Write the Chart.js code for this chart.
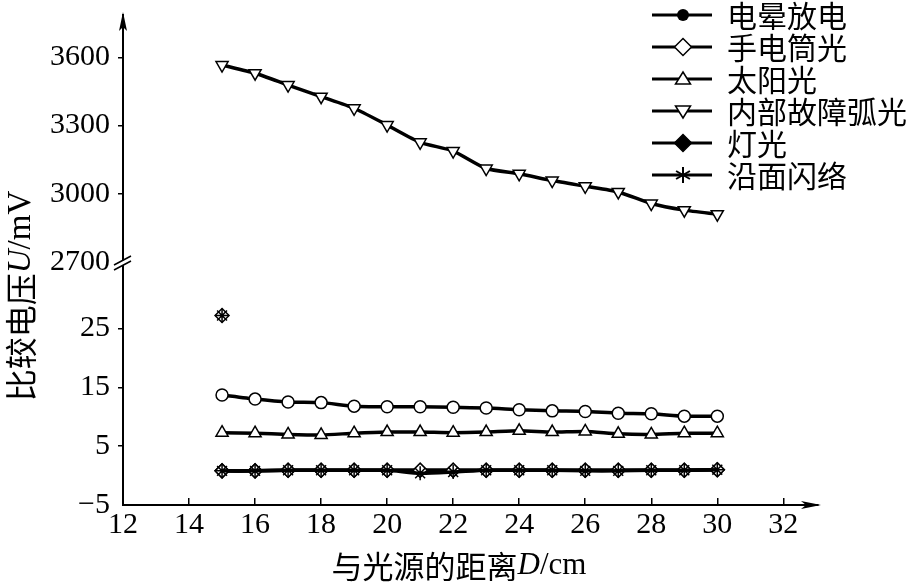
<!DOCTYPE html>
<html>
<head>
<meta charset="utf-8">
<script src="https://cdn.jsdelivr.net/npm/chart.js@4/dist/chart.umd.min.js"></script>
<style>
	html, body { margin: 0; padding: 0; background: #fff; }
</style>
</head>
<body>
<canvas id="chart" width="908" height="583"></canvas>
<script>
// datos
var distance = [15, 16, 17, 18, 19, 20, 21, 22, 23, 24, 25, 26, 27, 28, 29, 30];
var xTicks = [12, 14, 16, 18, 20, 22, 24, 26, 28, 30, 32];
var lowTicks = [-5, 5, 15, 25];
var highTicks = [2700, 3000, 3300, 3600];

var corona = [13.7, 13.0, 12.5, 12.4, 11.8, 11.7, 11.7, 11.6, 11.5, 11.2, 11.0, 10.9, 10.6, 10.5, 10.1, 10.1];
var flashlight = [0.8, 0.8, 0.9, 0.9, 0.9, 0.9, 0.9, 0.9, 0.9, 0.9, 0.9, 0.9, 0.9, 0.9, 0.9, 1.0];
var sunlight = [7.3, 7.2, 7.0, 6.9, 7.2, 7.4, 7.4, 7.3, 7.4, 7.6, 7.4, 7.5, 7.1, 7.0, 7.2, 7.2];
var arcLight = [3566, 3530, 3478, 3427, 3376, 3302, 3226, 3188, 3111, 3088, 3058, 3033, 3008, 2957, 2928, 2910];
var lamp = [0.8, 0.8, 0.9, 0.9, 0.9, 0.9, 0.9, 0.9, 0.9, 0.9, 0.9, 0.9, 0.9, 0.9, 0.9, 1.0];
var flashover = [0.8, 0.8, 0.9, 0.9, 0.9, 0.9, 0.4, 0.6, 0.9, 0.9, 0.9, 0.8, 0.8, 0.9, 0.9, 1.0];
var outlierX = [15, 15];
var outlierY = [27.2, 27.2];

var serif = "'Liberation Serif', 'Times New Roman', serif";
var cjk = "'Noto Sans CJK SC', sans-serif";

var puntos = function (xs, ys) {
	return xs.map(function (x, i) { return {x: x, y: ys[i]}; });
};

var serie = function (label, ys, axis, style, legendMark, order) {
	return {
		label: label,
		data: puntos(distance, ys),
		yAxisID: axis,
		borderColor: '#000',
		borderWidth: 3.5,
		tension: 0.2,
		pointStyle: style,
		pointRadius: style == 'circle' ? 6 : 7,
		pointRotation: 0,
		pointBackgroundColor: '#fff',
		pointBorderColor: '#000',
		pointBorderWidth: 1.5,
		legendMark: legendMark,
		order: order
	};
};

var arcSeries = serie('内部故障弧光', arcLight, 'yHigh', 'triangle', 'triDown', 3);
arcSeries.pointRotation = 180;

var datasets = [
	serie('电晕放电', corona, 'yLow', 'circle', 'dot', 3),
	serie('手电筒光', flashlight, 'yLow', 'rectRot', 'diamond', 2),
	serie('太阳光', sunlight, 'yLow', 'triangle', 'triUp', 3),
	arcSeries,
	serie('灯光', lamp, 'yLow', 'rectRot', 'solidDiamond', 2),
	serie('沿面闪络', flashover, 'yLow', 'star', 'asterisk', 0),
	{
		label: '',
		data: puntos(outlierX, outlierY),
		yAxisID: 'yLow',
		showLine: false,
		pointStyle: ['rectRot', 'star'],
		pointRadius: 7,
		pointBackgroundColor: '#fff',
		pointBorderColor: '#000',
		pointBorderWidth: 1.5,
		order: 0
	}
];

// marca de la leyenda: linea + simbolo
var drawMark = function (ctx, kind, x, y) {
	ctx.save();
	ctx.lineWidth = 1.5;
	ctx.strokeStyle = '#000';
	ctx.fillStyle = '#fff';
	ctx.beginPath();
	if (kind == 'dot') {
		ctx.arc(x, y, 6, 0, Math.PI * 2);
		ctx.fillStyle = '#000';
		ctx.fill();
	} else if (kind == 'diamond' || kind == 'solidDiamond') {
		ctx.moveTo(x, y - 8.5); ctx.lineTo(x + 8.5, y); ctx.lineTo(x, y + 8.5); ctx.lineTo(x - 8.5, y);
		ctx.closePath();
		if (kind == 'solidDiamond') ctx.fillStyle = '#000';
		ctx.fill(); ctx.stroke();
	} else if (kind == 'triUp') {
		ctx.moveTo(x, y - 7); ctx.lineTo(x + 7.5, y + 5); ctx.lineTo(x - 7.5, y + 5);
		ctx.closePath(); ctx.fill(); ctx.stroke();
	} else if (kind == 'triDown') {
		ctx.moveTo(x, y + 7); ctx.lineTo(x + 7.5, y - 5); ctx.lineTo(x - 7.5, y - 5);
		ctx.closePath(); ctx.fill(); ctx.stroke();
	} else if (kind == 'asterisk') {
		ctx.lineWidth = 2;
		for (var a = 0; a < 3; a++) {
			var ang = Math.PI / 2 + a * Math.PI / 3;
			ctx.moveTo(x - Math.cos(ang) * 8, y - Math.sin(ang) * 8);
			ctx.lineTo(x + Math.cos(ang) * 8, y + Math.sin(ang) * 8);
		}
		ctx.stroke();
	}
	ctx.restore();
};

// texto con partes en distinta fuente
var mixedText = function (ctx, parts, x, y) {
	var total = 0;
	parts.forEach(function (p) { ctx.font = p[1]; total += ctx.measureText(p[0]).width; });
	var cx = x - total / 2;
	parts.forEach(function (p) {
		ctx.font = p[1];
		ctx.fillText(p[0], cx, y);
		cx += ctx.measureText(p[0]).width;
	});
};

var decoration = {
	id: 'decoration',
	afterDraw: function (chart) {
		var ctx = chart.ctx;
		var area = chart.chartArea;
		var brk = chart.scales.yHigh.getPixelForValue(highTicks[0]);
		ctx.save();
		ctx.fillStyle = '#000';
		ctx.strokeStyle = '#000';

		// flecha eje y
		var ax = area.left;
		ctx.beginPath();
		ctx.moveTo(ax, area.top - 3);
		ctx.lineTo(ax - 4, area.top + 16);
		ctx.lineTo(ax, area.top + 12);
		ctx.lineTo(ax + 4, area.top + 16);
		ctx.closePath();
		ctx.fill();

		// flecha eje x
		var ay = area.bottom;
		ctx.beginPath();
		ctx.moveTo(area.right + 3, ay);
		ctx.lineTo(area.right - 17, ay - 4);
		ctx.lineTo(area.right - 12, ay);
		ctx.lineTo(area.right - 17, ay + 4);
		ctx.closePath();
		ctx.fill();

		// corte del eje
		ctx.fillStyle = '#fff';
		ctx.beginPath();
		ctx.moveTo(ax - 8, brk + 2); ctx.lineTo(ax + 8, brk - 6);
		ctx.lineTo(ax + 8, brk - 1); ctx.lineTo(ax - 8, brk + 7);
		ctx.closePath();
		ctx.fill();
		ctx.lineWidth = 1.5;
		ctx.beginPath();
		ctx.moveTo(ax - 9, brk + 3); ctx.lineTo(ax + 8, brk - 6);
		ctx.moveTo(ax - 9, brk + 8); ctx.lineTo(ax + 8, brk - 1);
		ctx.stroke();

		// titulos de ejes
		ctx.fillStyle = '#000';
		ctx.textBaseline = 'middle';
		ctx.textAlign = 'left';
		mixedText(ctx, [['与光源的距离', '31px ' + cjk], ['D', 'italic 31px ' + serif], ['/cm', '31px ' + serif]], 459, 566);
		ctx.save();
		ctx.translate(21, 296);
		ctx.rotate(-Math.PI / 2);
		mixedText(ctx, [['比较电压', '32px ' + cjk], ['U', 'italic 33px ' + serif], ['/mV', '33px ' + serif]], 0, 0);
		ctx.restore();

		// leyenda
		var row = 0;
		chart.data.datasets.forEach(function (ds) {
			if (!ds.legendMark) return;
			var y = 15 + row * 32;
			ctx.lineWidth = 3;
			ctx.strokeStyle = '#000';
			ctx.beginPath();
			ctx.moveTo(652, y);
			ctx.lineTo(712, y);
			ctx.stroke();
			drawMark(ctx, ds.legendMark, 683, y);
			ctx.fillStyle = '#000';
			ctx.font = '30px ' + cjk;
			ctx.textAlign = 'left';
			ctx.textBaseline = 'middle';
			ctx.fillText(ds.label, 727, y + 1);
			row++;
		});
		ctx.restore();
	}
};

var fixTicks = function (values) {
	return function (scale) {
		scale.ticks = values.map(function (v) { return {value: v}; });
	};
};

var yFit = function (scale) {
	scale.width = 123;
	scale.paddingTop = 0;
	scale.paddingBottom = 0;
};

var tickLabel = function (v) {
	return v < 0 ? '\u2212' + Math.abs(v) : String(v);
};

var tickFont = {family: serif, size: 30};
var yGridColor = function (c) {
	return c.tick && (c.tick.value == -5 || c.tick.value == 2700) ? 'rgba(0,0,0,0)' : '#000';
};

var ctx = document.getElementById('chart').getContext('2d');
var myChart = new Chart(ctx, {
	type: 'line',
	data: {datasets: datasets},
	options: {
		responsive: false,
		animation: false,
		devicePixelRatio: 1,
		events: [],
		layout: {padding: {left: 0, top: 15, right: 90, bottom: 0}},
		plugins: {legend: {display: false}, tooltip: {enabled: false}},
		scales: {
			x: {
				type: 'linear',
				min: 12,
				max: 33.05,
				afterBuildTicks: fixTicks(xTicks),
				afterFit: function (scale) {
					scale.height = 78;
					scale.paddingLeft = 0;
					scale.paddingRight = 0;
				},
				border: {color: '#000', width: 2},
				grid: {drawOnChartArea: false, tickLength: -7, color: '#000', lineWidth: 1.5},
				ticks: {color: '#000', font: tickFont, padding: 9, maxRotation: 0, autoSkip: false, callback: tickLabel}
			},
			yLow: {
				type: 'linear',
				position: 'left',
				stack: 'v',
				stackWeight: 243,
				min: -5,
				max: 36.3,
				afterBuildTicks: fixTicks(lowTicks),
				afterFit: yFit,
				border: {color: '#000', width: 2},
				grid: {drawOnChartArea: false, tickLength: 5, color: yGridColor, lineWidth: 1.5},
				ticks: {color: '#000', font: tickFont, padding: 8, autoSkip: false, callback: tickLabel}
			},
			yHigh: {
				type: 'linear',
				position: 'left',
				stack: 'v',
				stackWeight: 247,
				min: 2700,
				max: 3786,
				afterBuildTicks: fixTicks(highTicks),
				afterFit: yFit,
				border: {color: '#000', width: 2},
				grid: {drawOnChartArea: false, tickLength: 5, color: yGridColor, lineWidth: 1.5},
				ticks: {color: '#000', font: tickFont, padding: 8, autoSkip: false, callback: tickLabel}
			}
		}
	},
	plugins: [decoration]
});
</script>
</body>
</html>
